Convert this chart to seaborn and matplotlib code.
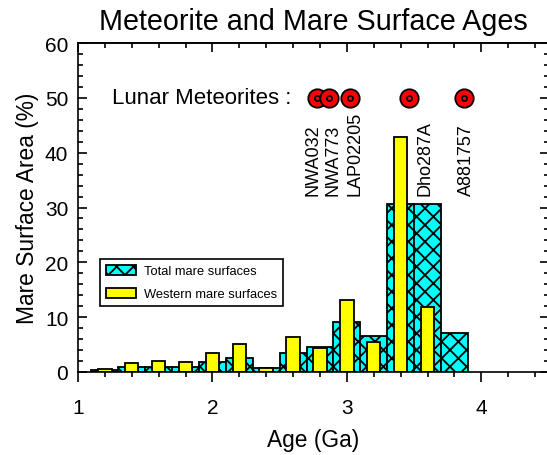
import matplotlib
matplotlib.use("Agg")
import matplotlib.pyplot as plt
import numpy as np
import pandas as pd
import seaborn as sns
from matplotlib.ticker import MultipleLocator
from matplotlib.patches import Patch

# ---- data ----
ages = [1.2, 1.4, 1.6, 1.8, 2.0, 2.2, 2.4, 2.6, 2.8, 3.0, 3.2, 3.4, 3.6, 3.8]
total_pct = [0.3, 1.0, 1.0, 1.0, 1.85, 2.6, 0.7, 3.4, 4.6, 9.2, 6.6, 30.6, 30.6, 7.1]
western_pct = [0.6, 1.7, 2.0, 1.75, 3.45, 5.1, 0.75, 6.45, 4.4, 13.2, 5.5, 42.8, 11.9, 0.0]

met_names = ["NWA032", "NWA773", "LAP02205", "Dho287A", "A881757"]
met_ages = [2.78, 2.87, 3.02, 3.46, 3.87]
met_level = 50

x_ticks = [1, 2, 3, 4]
y_ticks = [0, 10, 20, 30, 40, 50, 60]

# label layout offsets (Ga) relative to each meteorite age
label_offsets = [-0.03, 0.03, 0.04, 0.12, 0.02]

plt.rcParams['font.family'] = ['Liberation Sans', 'DejaVu Sans']
plt.rcParams['hatch.linewidth'] = 1.3
plt.rcParams['hatch.color'] = 'black'
plt.rcParams['axes.linewidth'] = 1.2

fig = plt.figure(figsize=(5.47, 4.56), dpi=100)
ax = fig.add_axes([78 / 547, 83 / 456, 470.5 / 547, 329 / 456])

df = pd.DataFrame({"age": ages, "total": total_pct, "western": western_pct})

sns.barplot(data=df, x="age", y="total", native_scale=True, width=1.0,
            color="#00FFFF", saturation=1, edgecolor="black", linewidth=1.3,
            errorbar=None, ax=ax)
for p in ax.patches:
    p.set_hatch("xx")

sns.barplot(data=df[df["western"] > 0], x="age", y="western", native_scale=True,
            width=0.5, color="#FFFF00", saturation=1, edgecolor="black",
            linewidth=1.3, errorbar=None, ax=ax)

# meteorites
sns.scatterplot(x=met_ages, y=[met_level] * len(met_ages), s=175, color="red",
                edgecolor="black", linewidth=1.3, ax=ax, zorder=5, legend=False)
sns.scatterplot(x=met_ages, y=[met_level] * len(met_ages), s=14, color="red",
                edgecolor="black", linewidth=1.2, ax=ax, zorder=6, legend=False)

for name, a, off in zip(met_names, met_ages, label_offsets):
    ax.text(a + off, 32.2, name, rotation=90, ha="center", va="bottom", fontsize=13)

ax.text(2.59, met_level, "Lunar Meteorites :", ha="right", va="center", fontsize=16)

ax.set_xlim(1, 4.5)
ax.set_ylim(0, 60)
ax.set_xticks(x_ticks)
ax.set_xticklabels([str(t) for t in x_ticks])
ax.xaxis.set_minor_locator(MultipleLocator(0.2))
ax.set_yticks(y_ticks)
ax.set_yticklabels([str(t) for t in y_ticks])
ax.yaxis.set_minor_locator(MultipleLocator(2))

ax.tick_params(axis="x", which="major", direction="out", length=7, width=1.2,
               labelsize=15, pad=11.5, top=False)
ax.tick_params(axis="x", which="minor", direction="out", length=3.6, width=1.2, top=False)
ax.tick_params(axis="y", which="major", direction="in", length=6.5, width=1.2,
               labelsize=15, pad=7, right=True)
ax.tick_params(axis="y", which="minor", direction="in", length=3.6, width=1.2, right=True)

sec = ax.secondary_xaxis("top")
sec.set_xticks(x_ticks)
sec.xaxis.set_minor_locator(MultipleLocator(0.2))
sec.tick_params(axis="x", which="major", direction="in", length=6.5, width=1.2, labeltop=False)
sec.tick_params(axis="x", which="minor", direction="in", length=3.6, width=1.2)
sec.spines["top"].set_linewidth(1.2)

ax.set_xlabel("Age (Ga)", fontsize=16.4, labelpad=8.5)
ax.set_ylabel("Mare Surface Area (%)", fontsize=16.4, labelpad=4.5)
ax.set_title("Meteorite and Mare Surface Ages", fontsize=20.7, pad=10)

handles = [Patch(facecolor="#00FFFF", edgecolor="black", hatch="xx", linewidth=1.3,
                 label="Total mare surfaces"),
           Patch(facecolor="#FFFF00", edgecolor="black", linewidth=1.3,
                 label="Western mare surfaces")]
leg = ax.legend(handles=handles, loc="lower left", bbox_to_anchor=(0.047, 0.2006),
                fontsize=9.3, frameon=True, fancybox=False, edgecolor="black",
                framealpha=1, handlelength=2.35, handleheight=0.8, borderaxespad=0,
                borderpad=0.45, labelspacing=0.8, handletextpad=0.6)
leg.get_frame().set_linewidth(1.2)

fig.savefig("out.png", dpi=100)
